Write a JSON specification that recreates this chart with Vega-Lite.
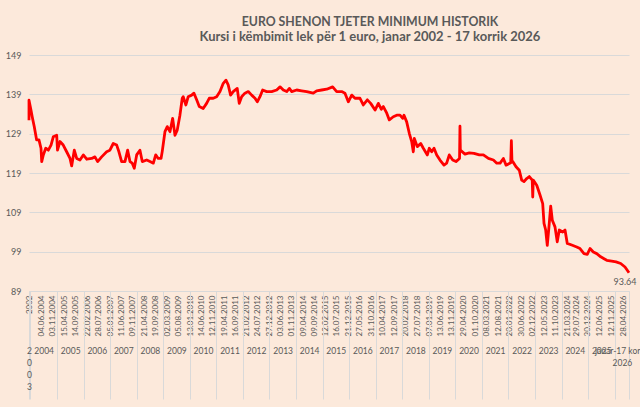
{
  "$schema": "https://vega.github.io/schema/vega-lite/v6.json",
  "width": 600,
  "height": 236,
  "autosize": "none",
  "padding": {"left": 29, "top": 55, "right": 11, "bottom": 116},
  "background": "#FCE9DB",
  "config": {
    "view": {"stroke": null},
    "title": {"anchor": "middle", "dx": 41, "offset": 7, "font": "Lato", "fontSize": 12.3, "fontWeight": "bold", "color": "#595959", "subtitleFont": "Lato", "subtitleFontSize": 13, "subtitleFontWeight": "bold", "subtitleColor": "#595959", "subtitlePadding": 0}
  },
  "title": {"text": "EURO SHENON TJETER MINIMUM HISTORIK", "subtitle": "Kursi i këmbimit lek për 1 euro, janar 2002 - 17 korrik 2026"},
  "data": {"values": [
    {"date": "2002-01-01", "value": 132.4},
    {"date": "2003-01-01", "value": 137.5},
    {"date": "2004-01-08", "value": 135},
    {"date": "2004-01-25", "value": 133.3},
    {"date": "2004-02-22", "value": 130.8},
    {"date": "2004-03-26", "value": 127.4},
    {"date": "2004-04-27", "value": 127.4},
    {"date": "2004-05-25", "value": 125.3},
    {"date": "2004-06-04", "value": 121.9},
    {"date": "2004-06-26", "value": 123.6},
    {"date": "2004-07-29", "value": 125.3},
    {"date": "2004-09-03", "value": 124.8},
    {"date": "2004-10-10", "value": 126.1},
    {"date": "2004-11-10", "value": 128.2},
    {"date": "2004-12-27", "value": 128.6},
    {"date": "2005-01-07", "value": 124.8},
    {"date": "2005-02-10", "value": 127},
    {"date": "2005-03-27", "value": 126.1},
    {"date": "2005-05-13", "value": 124.4},
    {"date": "2005-06-28", "value": 122.7},
    {"date": "2005-07-21", "value": 120.8},
    {"date": "2005-08-26", "value": 124.8},
    {"date": "2005-09-28", "value": 122.7},
    {"date": "2005-11-12", "value": 122.3},
    {"date": "2005-12-28", "value": 123.6},
    {"date": "2006-02-13", "value": 122.5},
    {"date": "2006-04-22", "value": 122.7},
    {"date": "2006-06-06", "value": 123.1},
    {"date": "2006-07-13", "value": 121.9},
    {"date": "2006-09-06", "value": 123.1},
    {"date": "2006-11-14", "value": 124.4},
    {"date": "2006-12-29", "value": 124.8},
    {"date": "2007-02-13", "value": 126.5},
    {"date": "2007-04-01", "value": 126.1},
    {"date": "2007-05-02", "value": 124.4},
    {"date": "2007-06-08", "value": 121.9},
    {"date": "2007-07-24", "value": 121.9},
    {"date": "2007-08-30", "value": 124.8},
    {"date": "2007-10-01", "value": 121.9},
    {"date": "2007-11-01", "value": 121.5},
    {"date": "2007-11-29", "value": 120.2},
    {"date": "2008-01-01", "value": 123.6},
    {"date": "2008-02-15", "value": 124.8},
    {"date": "2008-03-18", "value": 121.9},
    {"date": "2008-05-18", "value": 122.3},
    {"date": "2008-07-02", "value": 121.9},
    {"date": "2008-08-17", "value": 121.5},
    {"date": "2008-09-19", "value": 123.6},
    {"date": "2008-10-24", "value": 122.7},
    {"date": "2008-12-01", "value": 122.7},
    {"date": "2008-12-18", "value": 124.5},
    {"date": "2009-01-24", "value": 129.5},
    {"date": "2009-02-25", "value": 130.8},
    {"date": "2009-04-03", "value": 129.5},
    {"date": "2009-05-10", "value": 132.9},
    {"date": "2009-06-11", "value": 128.6},
    {"date": "2009-07-12", "value": 129.9},
    {"date": "2009-08-18", "value": 133.7},
    {"date": "2009-09-19", "value": 138},
    {"date": "2009-10-02", "value": 138.4},
    {"date": "2009-11-08", "value": 136.3},
    {"date": "2009-12-10", "value": 138.4},
    {"date": "2010-01-26", "value": 138.8},
    {"date": "2010-02-27", "value": 139.3},
    {"date": "2010-04-05", "value": 137.6},
    {"date": "2010-05-11", "value": 135.9},
    {"date": "2010-07-04", "value": 135.4},
    {"date": "2010-08-20", "value": 136.7},
    {"date": "2010-09-25", "value": 138},
    {"date": "2010-11-19", "value": 138},
    {"date": "2011-01-05", "value": 138.4},
    {"date": "2011-02-20", "value": 139.7},
    {"date": "2011-04-06", "value": 141.8},
    {"date": "2011-05-13", "value": 142.6},
    {"date": "2011-06-13", "value": 141.4},
    {"date": "2011-07-16", "value": 138.8},
    {"date": "2011-08-21", "value": 139.7},
    {"date": "2011-10-15", "value": 140.5},
    {"date": "2011-11-12", "value": 136.7},
    {"date": "2011-12-15", "value": 138.4},
    {"date": "2012-01-29", "value": 139.3},
    {"date": "2012-03-15", "value": 139.7},
    {"date": "2012-05-01", "value": 138.8},
    {"date": "2012-06-16", "value": 138},
    {"date": "2012-07-17", "value": 137.1},
    {"date": "2012-08-23", "value": 138.4},
    {"date": "2012-09-29", "value": 140.1},
    {"date": "2012-11-23", "value": 139.7},
    {"date": "2013-01-31", "value": 139.7},
    {"date": "2013-04-10", "value": 140.1},
    {"date": "2013-05-26", "value": 140.9},
    {"date": "2013-07-10", "value": 140.1},
    {"date": "2013-08-26", "value": 139.7},
    {"date": "2013-10-01", "value": 140.5},
    {"date": "2013-11-03", "value": 139.7},
    {"date": "2014-01-10", "value": 140.1},
    {"date": "2014-03-19", "value": 139.9},
    {"date": "2014-05-27", "value": 139.7},
    {"date": "2014-08-26", "value": 139.3},
    {"date": "2014-10-12", "value": 139.9},
    {"date": "2014-12-20", "value": 140.1},
    {"date": "2015-02-27", "value": 140.3},
    {"date": "2015-05-20", "value": 140.9},
    {"date": "2015-07-14", "value": 139.7},
    {"date": "2015-09-21", "value": 139.7},
    {"date": "2015-11-05", "value": 139.3},
    {"date": "2015-12-21", "value": 137.1},
    {"date": "2016-02-06", "value": 138.8},
    {"date": "2016-03-22", "value": 138},
    {"date": "2016-05-30", "value": 138},
    {"date": "2016-07-14", "value": 136.3},
    {"date": "2016-09-08", "value": 137.6},
    {"date": "2016-10-24", "value": 136.7},
    {"date": "2016-12-23", "value": 135},
    {"date": "2017-02-06", "value": 136.7},
    {"date": "2017-03-20", "value": 135.2},
    {"date": "2017-04-16", "value": 135.9},
    {"date": "2017-06-02", "value": 134.2},
    {"date": "2017-07-07", "value": 132.5},
    {"date": "2017-08-31", "value": 133.3},
    {"date": "2017-10-17", "value": 133.7},
    {"date": "2017-12-01", "value": 133.7},
    {"date": "2018-01-08", "value": 132.9},
    {"date": "2018-01-25", "value": 133.7},
    {"date": "2018-03-03", "value": 132},
    {"date": "2018-04-08", "value": 129.1},
    {"date": "2018-05-11", "value": 127},
    {"date": "2018-06-02", "value": 124.4},
    {"date": "2018-06-16", "value": 127.8},
    {"date": "2018-07-27", "value": 125.7},
    {"date": "2018-09-12", "value": 126.5},
    {"date": "2018-10-18", "value": 125.3},
    {"date": "2018-12-12", "value": 123.6},
    {"date": "2019-01-08", "value": 125.3},
    {"date": "2019-02-10", "value": 124.4},
    {"date": "2019-03-14", "value": 125.3},
    {"date": "2019-04-20", "value": 123.6},
    {"date": "2019-06-04", "value": 122.3},
    {"date": "2019-07-29", "value": 121},
    {"date": "2019-09-04", "value": 121.5},
    {"date": "2019-10-10", "value": 123.6},
    {"date": "2019-11-26", "value": 122.3},
    {"date": "2020-01-10", "value": 121.9},
    {"date": "2020-02-28", "value": 122.7},
    {"date": "2020-03-05", "value": 130.9},
    {"date": "2020-03-10", "value": 124.8},
    {"date": "2020-05-13", "value": 123.8},
    {"date": "2020-07-11", "value": 124.1},
    {"date": "2020-09-14", "value": 124},
    {"date": "2020-11-26", "value": 123.6},
    {"date": "2021-01-21", "value": 123.6},
    {"date": "2021-03-31", "value": 122.7},
    {"date": "2021-06-08", "value": 122.3},
    {"date": "2021-07-24", "value": 121.5},
    {"date": "2021-09-08", "value": 121.5},
    {"date": "2021-10-23", "value": 122.7},
    {"date": "2021-11-29", "value": 121},
    {"date": "2022-02-01", "value": 121.6},
    {"date": "2022-02-10", "value": 127.2},
    {"date": "2022-02-18", "value": 122},
    {"date": "2022-03-01", "value": 121.9},
    {"date": "2022-04-15", "value": 120.6},
    {"date": "2022-05-30", "value": 119.7},
    {"date": "2022-07-02", "value": 117.2},
    {"date": "2022-08-03", "value": 116.8},
    {"date": "2022-09-09", "value": 117.6},
    {"date": "2022-10-15", "value": 118.1},
    {"date": "2022-11-24", "value": 117.2},
    {"date": "2022-12-01", "value": 112.9},
    {"date": "2022-12-08", "value": 117.2},
    {"date": "2023-01-25", "value": 115.9},
    {"date": "2023-03-11", "value": 113.4},
    {"date": "2023-04-17", "value": 111.2},
    {"date": "2023-05-05", "value": 106.2},
    {"date": "2023-05-28", "value": 104.5},
    {"date": "2023-06-19", "value": 100.6},
    {"date": "2023-07-12", "value": 105.3},
    {"date": "2023-08-05", "value": 110.6},
    {"date": "2023-08-27", "value": 107},
    {"date": "2023-10-03", "value": 105.3},
    {"date": "2023-11-03", "value": 101.5},
    {"date": "2023-12-01", "value": 104.5},
    {"date": "2024-01-17", "value": 104},
    {"date": "2024-02-18", "value": 104.5},
    {"date": "2024-03-20", "value": 101.1},
    {"date": "2024-05-20", "value": 100.7},
    {"date": "2024-07-28", "value": 100.2},
    {"date": "2024-09-11", "value": 99.8},
    {"date": "2024-11-05", "value": 98.5},
    {"date": "2024-12-20", "value": 98.3},
    {"date": "2025-01-27", "value": 99.8},
    {"date": "2025-03-13", "value": 98.9},
    {"date": "2025-04-29", "value": 98.5},
    {"date": "2025-06-23", "value": 97.7},
    {"date": "2025-08-08", "value": 97.2},
    {"date": "2025-09-14", "value": 96.8},
    {"date": "2025-11-21", "value": 96.6},
    {"date": "2026-01-20", "value": 96.4},
    {"date": "2026-03-25", "value": 96},
    {"date": "2026-05-23", "value": 95.1},
    {"date": "2026-07-17", "value": 93.64}
  ]},
  "layer": [
    {
      "mark": {"type": "line", "color": "#FF0000", "strokeWidth": 2.8, "strokeJoin": "round"},
      "encoding": {
        "x": {
          "field": "date", "type": "temporal",
          "scale": {"type": "utc", "domain": [{"year": 2003, "month": 12, "date": 12, "utc": true}, {"year": 2026, "month": 7, "date": 17, "utc": true}], "clamp": true, "nice": false},
          "axis": {
            "title": null, "orient": "bottom", "grid": false, "ticks": false, "domainColor": "#d9d9d9",
            "values": [
              {"year": 2002, "month": 1, "date": 1, "utc": true},
              {"year": 2004, "month": 6, "date": 4, "utc": true},
              {"year": 2004, "month": 11, "date": 3, "utc": true},
              {"year": 2005, "month": 4, "date": 15, "utc": true},
              {"year": 2005, "month": 9, "date": 14, "utc": true},
              {"year": 2006, "month": 2, "date": 22, "utc": true},
              {"year": 2006, "month": 7, "date": 28, "utc": true},
              {"year": 2007, "month": 1, "date": 5, "utc": true},
              {"year": 2007, "month": 6, "date": 11, "utc": true},
              {"year": 2007, "month": 11, "date": 9, "utc": true},
              {"year": 2008, "month": 4, "date": 21, "utc": true},
              {"year": 2008, "month": 9, "date": 19, "utc": true},
              {"year": 2009, "month": 3, "date": 2, "utc": true},
              {"year": 2009, "month": 8, "date": 5, "utc": true},
              {"year": 2010, "month": 1, "date": 13, "utc": true},
              {"year": 2010, "month": 6, "date": 14, "utc": true},
              {"year": 2010, "month": 11, "date": 12, "utc": true},
              {"year": 2011, "month": 4, "date": 19, "utc": true},
              {"year": 2011, "month": 9, "date": 16, "utc": true},
              {"year": 2012, "month": 2, "date": 21, "utc": true},
              {"year": 2012, "month": 7, "date": 24, "utc": true},
              {"year": 2012, "month": 12, "date": 27, "utc": true},
              {"year": 2013, "month": 6, "date": 3, "utc": true},
              {"year": 2013, "month": 11, "date": 1, "utc": true},
              {"year": 2014, "month": 4, "date": 9, "utc": true},
              {"year": 2014, "month": 9, "date": 9, "utc": true},
              {"year": 2015, "month": 2, "date": 12, "utc": true},
              {"year": 2015, "month": 7, "date": 16, "utc": true},
              {"year": 2015, "month": 12, "date": 21, "utc": true},
              {"year": 2016, "month": 5, "date": 27, "utc": true},
              {"year": 2016, "month": 10, "date": 31, "utc": true},
              {"year": 2017, "month": 4, "date": 10, "utc": true},
              {"year": 2017, "month": 9, "date": 12, "utc": true},
              {"year": 2018, "month": 2, "date": 20, "utc": true},
              {"year": 2018, "month": 7, "date": 27, "utc": true},
              {"year": 2019, "month": 1, "date": 7, "utc": true},
              {"year": 2019, "month": 6, "date": 13, "utc": true},
              {"year": 2019, "month": 11, "date": 13, "utc": true},
              {"year": 2020, "month": 4, "date": 29, "utc": true},
              {"year": 2020, "month": 10, "date": 1, "utc": true},
              {"year": 2021, "month": 3, "date": 8, "utc": true},
              {"year": 2021, "month": 8, "date": 12, "utc": true},
              {"year": 2022, "month": 1, "date": 20, "utc": true},
              {"year": 2022, "month": 6, "date": 30, "utc": true},
              {"year": 2022, "month": 12, "date": 2, "utc": true},
              {"year": 2023, "month": 5, "date": 12, "utc": true},
              {"year": 2023, "month": 10, "date": 11, "utc": true},
              {"year": 2024, "month": 3, "date": 21, "utc": true},
              {"year": 2024, "month": 7, "date": 29, "utc": true},
              {"year": 2024, "month": 12, "date": 30, "utc": true},
              {"year": 2025, "month": 6, "date": 12, "utc": true},
              {"year": 2025, "month": 11, "date": 12, "utc": true},
              {"year": 2026, "month": 4, "date": 28, "utc": true}
            ],
            "labelExpr": "utcyear(datum.value) == 2002 ? '2002' : utcFormat(datum.value, '%d.%m.%Y')",
            "labelAngle": 270, "labelAlign": "right", "labelBaseline": "middle", "labelPadding": 4,
            "labelFont": "Lato", "labelFontSize": 8, "labelColor": "#595959",
            "labelOverlap": false, "labelBound": false, "labelFlush": false
          }
        },
        "y": {
          "field": "value", "type": "quantitative",
          "scale": {"domain": [89, 149], "nice": false, "zero": false},
          "axis": {"title": null, "values": [89, 99, 109, 119, 129, 139, 149], "tickCount": 12, "domain": false, "ticks": false, "grid": true, "gridColor": "#d9d9d9", "gridWidth": 1, "labelPadding": 8, "labelOverlap": false, "labelFont": "Lato", "labelFontSize": 9, "labelColor": "#595959"}
        }
      }
    },
    {
      "transform": [{"filter": "datum.value == 93.64"}],
      "mark": {"type": "text", "dx": -4, "dy": 9, "font": "Lato", "fontSize": 9, "color": "#595959"},
      "encoding": {
        "x": {
          "field": "date", "type": "temporal",
          "scale": {"type": "utc", "domain": [{"year": 2003, "month": 12, "date": 12, "utc": true}, {"year": 2026, "month": 7, "date": 17, "utc": true}], "clamp": true, "nice": false},
          "axis": {
            "title": null, "orient": "bottom", "grid": false, "labels": false, "domain": false, "tickSize": 108, "tickColor": "#d9d9d9",
            "values": [
              {"year": 2002, "month": 1, "date": 1, "utc": true},
              {"year": 2004, "month": 1, "date": 1, "utc": true},
              {"year": 2005, "month": 1, "date": 1, "utc": true},
              {"year": 2006, "month": 1, "date": 1, "utc": true},
              {"year": 2007, "month": 1, "date": 1, "utc": true},
              {"year": 2008, "month": 1, "date": 1, "utc": true},
              {"year": 2009, "month": 1, "date": 1, "utc": true},
              {"year": 2010, "month": 1, "date": 1, "utc": true},
              {"year": 2011, "month": 1, "date": 1, "utc": true},
              {"year": 2012, "month": 1, "date": 1, "utc": true},
              {"year": 2013, "month": 1, "date": 1, "utc": true},
              {"year": 2014, "month": 1, "date": 1, "utc": true},
              {"year": 2015, "month": 1, "date": 1, "utc": true},
              {"year": 2016, "month": 1, "date": 1, "utc": true},
              {"year": 2017, "month": 1, "date": 1, "utc": true},
              {"year": 2018, "month": 1, "date": 1, "utc": true},
              {"year": 2019, "month": 1, "date": 1, "utc": true},
              {"year": 2020, "month": 1, "date": 1, "utc": true},
              {"year": 2021, "month": 1, "date": 1, "utc": true},
              {"year": 2022, "month": 1, "date": 1, "utc": true},
              {"year": 2023, "month": 1, "date": 1, "utc": true},
              {"year": 2024, "month": 1, "date": 1, "utc": true},
              {"year": 2025, "month": 1, "date": 1, "utc": true},
              {"year": 2026, "month": 1, "date": 1, "utc": true},
              {"year": 2026, "month": 7, "date": 17, "utc": true}
            ]
          }
        },
        "y": {"field": "value", "type": "quantitative"},
        "text": {"field": "value", "type": "quantitative", "format": ".2f"}
      }
    },
    {
      "mark": {"type": "point", "opacity": 0},
      "encoding": {
        "x": {
          "field": "date", "type": "temporal",
          "scale": {"type": "utc", "domain": [{"year": 2003, "month": 12, "date": 12, "utc": true}, {"year": 2026, "month": 7, "date": 17, "utc": true}], "clamp": true, "nice": false},
          "axis": {
            "title": null, "orient": "bottom", "grid": false, "ticks": false, "domain": false,
            "values": [
              {"year": 2003, "month": 7, "date": 1, "utc": true},
              {"year": 2004, "month": 7, "date": 1, "utc": true},
              {"year": 2005, "month": 7, "date": 1, "utc": true},
              {"year": 2006, "month": 7, "date": 1, "utc": true},
              {"year": 2007, "month": 7, "date": 1, "utc": true},
              {"year": 2008, "month": 7, "date": 1, "utc": true},
              {"year": 2009, "month": 7, "date": 1, "utc": true},
              {"year": 2010, "month": 7, "date": 1, "utc": true},
              {"year": 2011, "month": 7, "date": 1, "utc": true},
              {"year": 2012, "month": 7, "date": 1, "utc": true},
              {"year": 2013, "month": 7, "date": 1, "utc": true},
              {"year": 2014, "month": 7, "date": 1, "utc": true},
              {"year": 2015, "month": 7, "date": 1, "utc": true},
              {"year": 2016, "month": 7, "date": 1, "utc": true},
              {"year": 2017, "month": 7, "date": 1, "utc": true},
              {"year": 2018, "month": 7, "date": 1, "utc": true},
              {"year": 2019, "month": 7, "date": 1, "utc": true},
              {"year": 2020, "month": 7, "date": 1, "utc": true},
              {"year": 2021, "month": 7, "date": 1, "utc": true},
              {"year": 2022, "month": 7, "date": 1, "utc": true},
              {"year": 2023, "month": 7, "date": 1, "utc": true},
              {"year": 2024, "month": 7, "date": 1, "utc": true},
              {"year": 2025, "month": 7, "date": 1, "utc": true},
              {"year": 2026, "month": 4, "date": 10, "utc": true}
            ],
            "labelExpr": "utcyear(datum.value) == 2026 ? ['janar-17 korrik', '2026'] : utcyear(datum.value) == 2003 ? ['2', '0', '0', '3'] : utcFormat(datum.value, '%Y')",
            "labelBaseline": "top", "labelPadding": 55, "labelLineHeight": 12,
            "labelFont": "Lato", "labelFontSize": 8.5, "labelColor": "#595959",
            "labelOverlap": false, "labelBound": false, "labelFlush": false
          }
        },
        "y": {"field": "value", "type": "quantitative"}
      }
    }
  ],
  "resolve": {"scale": {"x": "independent"}, "axis": {"x": "independent"}}
}
